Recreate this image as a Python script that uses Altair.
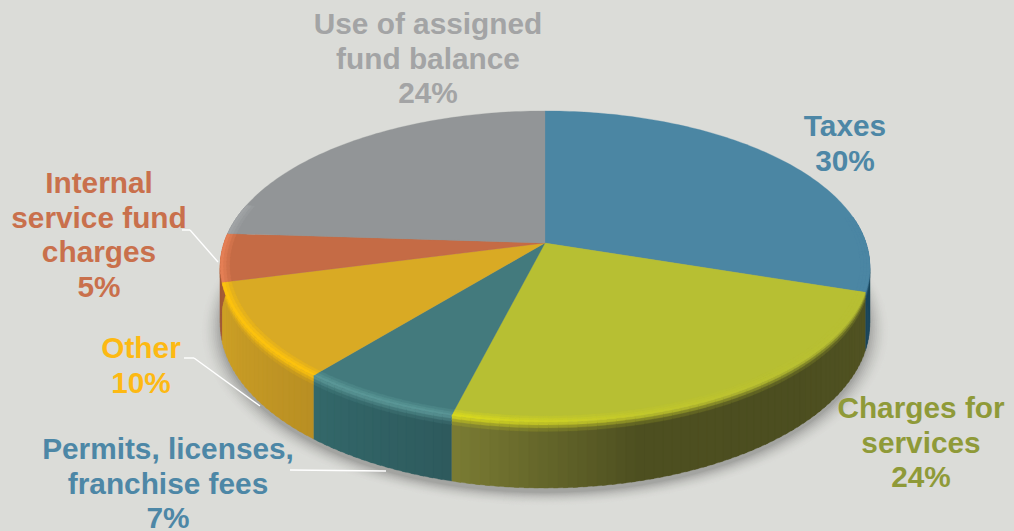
import math
import altair as alt

# Budget shares in clockwise order, starting from twelve o'clock
names = ["Taxes", "Charges for services", "Permits, licenses, franchise fees", "Other",
         "Internal service fund charges", "Use of assigned fund balance"]
shares = [30, 24, 7, 10, 5, 24]
label_lines = [["Taxes"], ["Charges for", "services"], ["Permits, licenses,", "franchise fees"],
               ["Other"], ["Internal", "service fund", "charges"], ["Use of assigned", "fund balance"]]
label_colors = ["#4d87a6", "#8f9a38", "#4d87a6", "#fdb913", "#c9704c", "#a3a4a5"]
top_colors = ["#4b86a3", "#b7bf33", "#437a7d", "#d9aa24", "#c56b45", "#929597"]
rim_colors = ["#5f9fbd", "#dcdc1c", "#5a9696", "#fcc20e", "#e47f55", "#a0a3a5"]
# Wall shade at the start and end of each slice, with optional mid stops
wall_colors = [["#1b465c", "#1b465c"], ["#515322", "#4c4e20", "#4d4f20", "#7b7c33"],
               ["#2e5a5d", "#33686a"], ["#b98f23", "#cfa226"], ["#a35b38", "#a35b38"],
               ["#77787a", "#77787a"]]

BACKGROUND = "#dbdcd8"
SHADOW = "#a3a4a1"

# Perspective model of the tilted disc: near edge larger than far edge
CX, CY, RX, RY, K, DEPTH = 545.0, 243.0, 321.0, 152.0, 0.151, 56.0


def to_rgb(c):
    return [int(c[i:i + 2], 16) for i in (1, 3, 5)]


def mix(a, b, t):
    ca, cb = to_rgb(a), to_rgb(b)
    return "#" + "".join(f"{round(x + (y - x) * t):02x}" for x, y in zip(ca, cb))


def disc_point(deg, r=1.0, drop=0.0):
    a = math.radians(deg)
    u, v = r * math.sin(a), -r * math.cos(a)
    w = 1 - K * v
    return [round(CX + RX * u / w, 2), round(CY + (RY * v + drop) / w, 2)]


def feature(ring, fill):
    return {"type": "Feature", "properties": {"fill": fill},
            "geometry": {"type": "Polygon", "coordinates": [ring + [ring[0]]]}}


def wall_shade(stops, t):
    pos = t * (len(stops) - 1)
    i = min(int(pos), len(stops) - 2)
    return mix(stops[i], stops[i + 1], pos - i)


def grid(a0, a1, step):
    n = max(1, round((a1 - a0) / step))
    return [a0 + (a1 - a0) * i / n for i in range(n + 1)]


def rim_glow(deg):
    return max(0.0, min(1.0, (1 - math.sin(math.radians(deg))) / 1.3)) ** 2


features = []

# Soft contact shadow: nested outlines of the base, from faint and wide to dark and tight
LEVELS = 12
for i in range(LEVELS):
    spread = 1.06 - 0.06 * i / (LEVELS - 1)
    ring = [disc_point(d, spread, DEPTH + 4) for d in range(0, 360, 3)]
    features.append(feature(ring, mix(BACKGROUND, SHADOW, ((i + 1) / LEVELS) ** 2)))

edges = [0.0]
for s in shares:
    edges.append(edges[-1] + s * 3.6)

# Outer wall, split into thin strips for the shading along the rim.
# Each strip runs slightly under the next one so no seams show through.
WALL_BANDS = [(0, 2.5, 0.85), (2.5, 5, 0.5), (5, 8, 0.18), (8, DEPTH, 0.0)]
for idx in range(len(shares)):
    a0, a1 = max(edges[idx], 80), min(edges[idx + 1], 285)
    if a1 <= a0:
        continue
    angles = grid(a0, a1, 1.5)
    for p, q in zip(angles[:-1], angles[1:]):
        mid = (p + q) / 2
        end = min(q + 0.7, a1)
        base = wall_shade(wall_colors[idx], (mid - edges[idx]) / (edges[idx + 1] - edges[idx]))
        peak = mix(top_colors[idx], rim_colors[idx], rim_glow(mid))
        for d0, d1, strength in reversed(WALL_BANDS):
            low = d1
            top = max(d0 - 0.8, 0)
            ring = [disc_point(p, 1, top), disc_point(end, 1, top), disc_point(end, 1, low), disc_point(p, 1, low)]
            features.append(feature(ring, mix(base, peak, strength)))

# Flat top of each slice
for idx in range(len(shares)):
    arc = [disc_point(d) for d in grid(edges[idx], edges[idx + 1], 1.0)]
    features.append(feature([[CX, CY]] + arc, top_colors[idx]))

# Bright bevel just inside the near edge
RIM_BANDS = [(0.972, 0.982, 0.35), (0.982, 0.991, 0.7), (0.991, 1.0, 1.0)]
for idx in range(len(shares)):
    a0, a1 = max(edges[idx], 80), min(edges[idx + 1], 285)
    if a1 <= a0:
        continue
    angles = grid(a0, a1, 1.5)
    for p, q in zip(angles[:-1], angles[1:]):
        mid = (p + q) / 2
        end = min(q + 0.7, a1)
        for r0, r1, strength in RIM_BANDS:
            ring = [disc_point(p, r0), disc_point(end, r0), disc_point(end, r1), disc_point(p, r1)]
            features.append(feature(ring, mix(top_colors[idx], rim_colors[idx], rim_glow(mid) * strength)))

pie = (
    alt.Chart(alt.Data(values=features))
    .mark_geoshape(strokeWidth=0.3)
    .encode(
        fill=alt.Fill("properties.fill:N", scale=None),
        stroke=alt.Stroke("properties.fill:N", scale=None),
    )
    .project(type="identity", scale=1, translate=[0, 0])
)

# White leader lines from the outer labels to their slices
leader_segments = [
    (182, 230, 190, 230), (190, 230, 218, 262),
    (184, 358, 194, 358), (194, 358, 260, 406),
    (290, 470, 386, 471),
]
leaders = [
    alt.Chart().mark_rule(color="#ffffff", strokeWidth=1.4).encode(
        x=alt.value(x0), y=alt.value(y0), x2=alt.value(x1), y2=alt.value(y1)
    )
    for x0, y0, x1, y1 in leader_segments
]

# Centre of each label's first line, in the same order as the slices
label_anchor = [(845, 127), (921, 409), (168, 450), (141, 349), (99, 184), (428, 25)]
labels = []
for lines, share, color, (ax, ay) in zip(label_lines, shares, label_colors, label_anchor):
    text = "\n".join(lines + [f"{share}%"])
    labels.append(
        alt.Chart().mark_text(
            text=text, lineBreak="\n", lineHeight=34.5, align="center", baseline="middle",
            font="Liberation Sans", fontWeight="bold", fontSize=29.8, color=color,
        ).encode(x=alt.value(ax), y=alt.value(ay))
    )

chart = (
    alt.layer(pie, *leaders, *labels)
    .properties(width=1014, height=531, background=BACKGROUND, padding=0,
                autosize=alt.AutoSizeParams(type="none"))
    .configure_view(stroke=None)
)

chart.save("out.html", embed_options={"renderer": "svg", "actions": False})
